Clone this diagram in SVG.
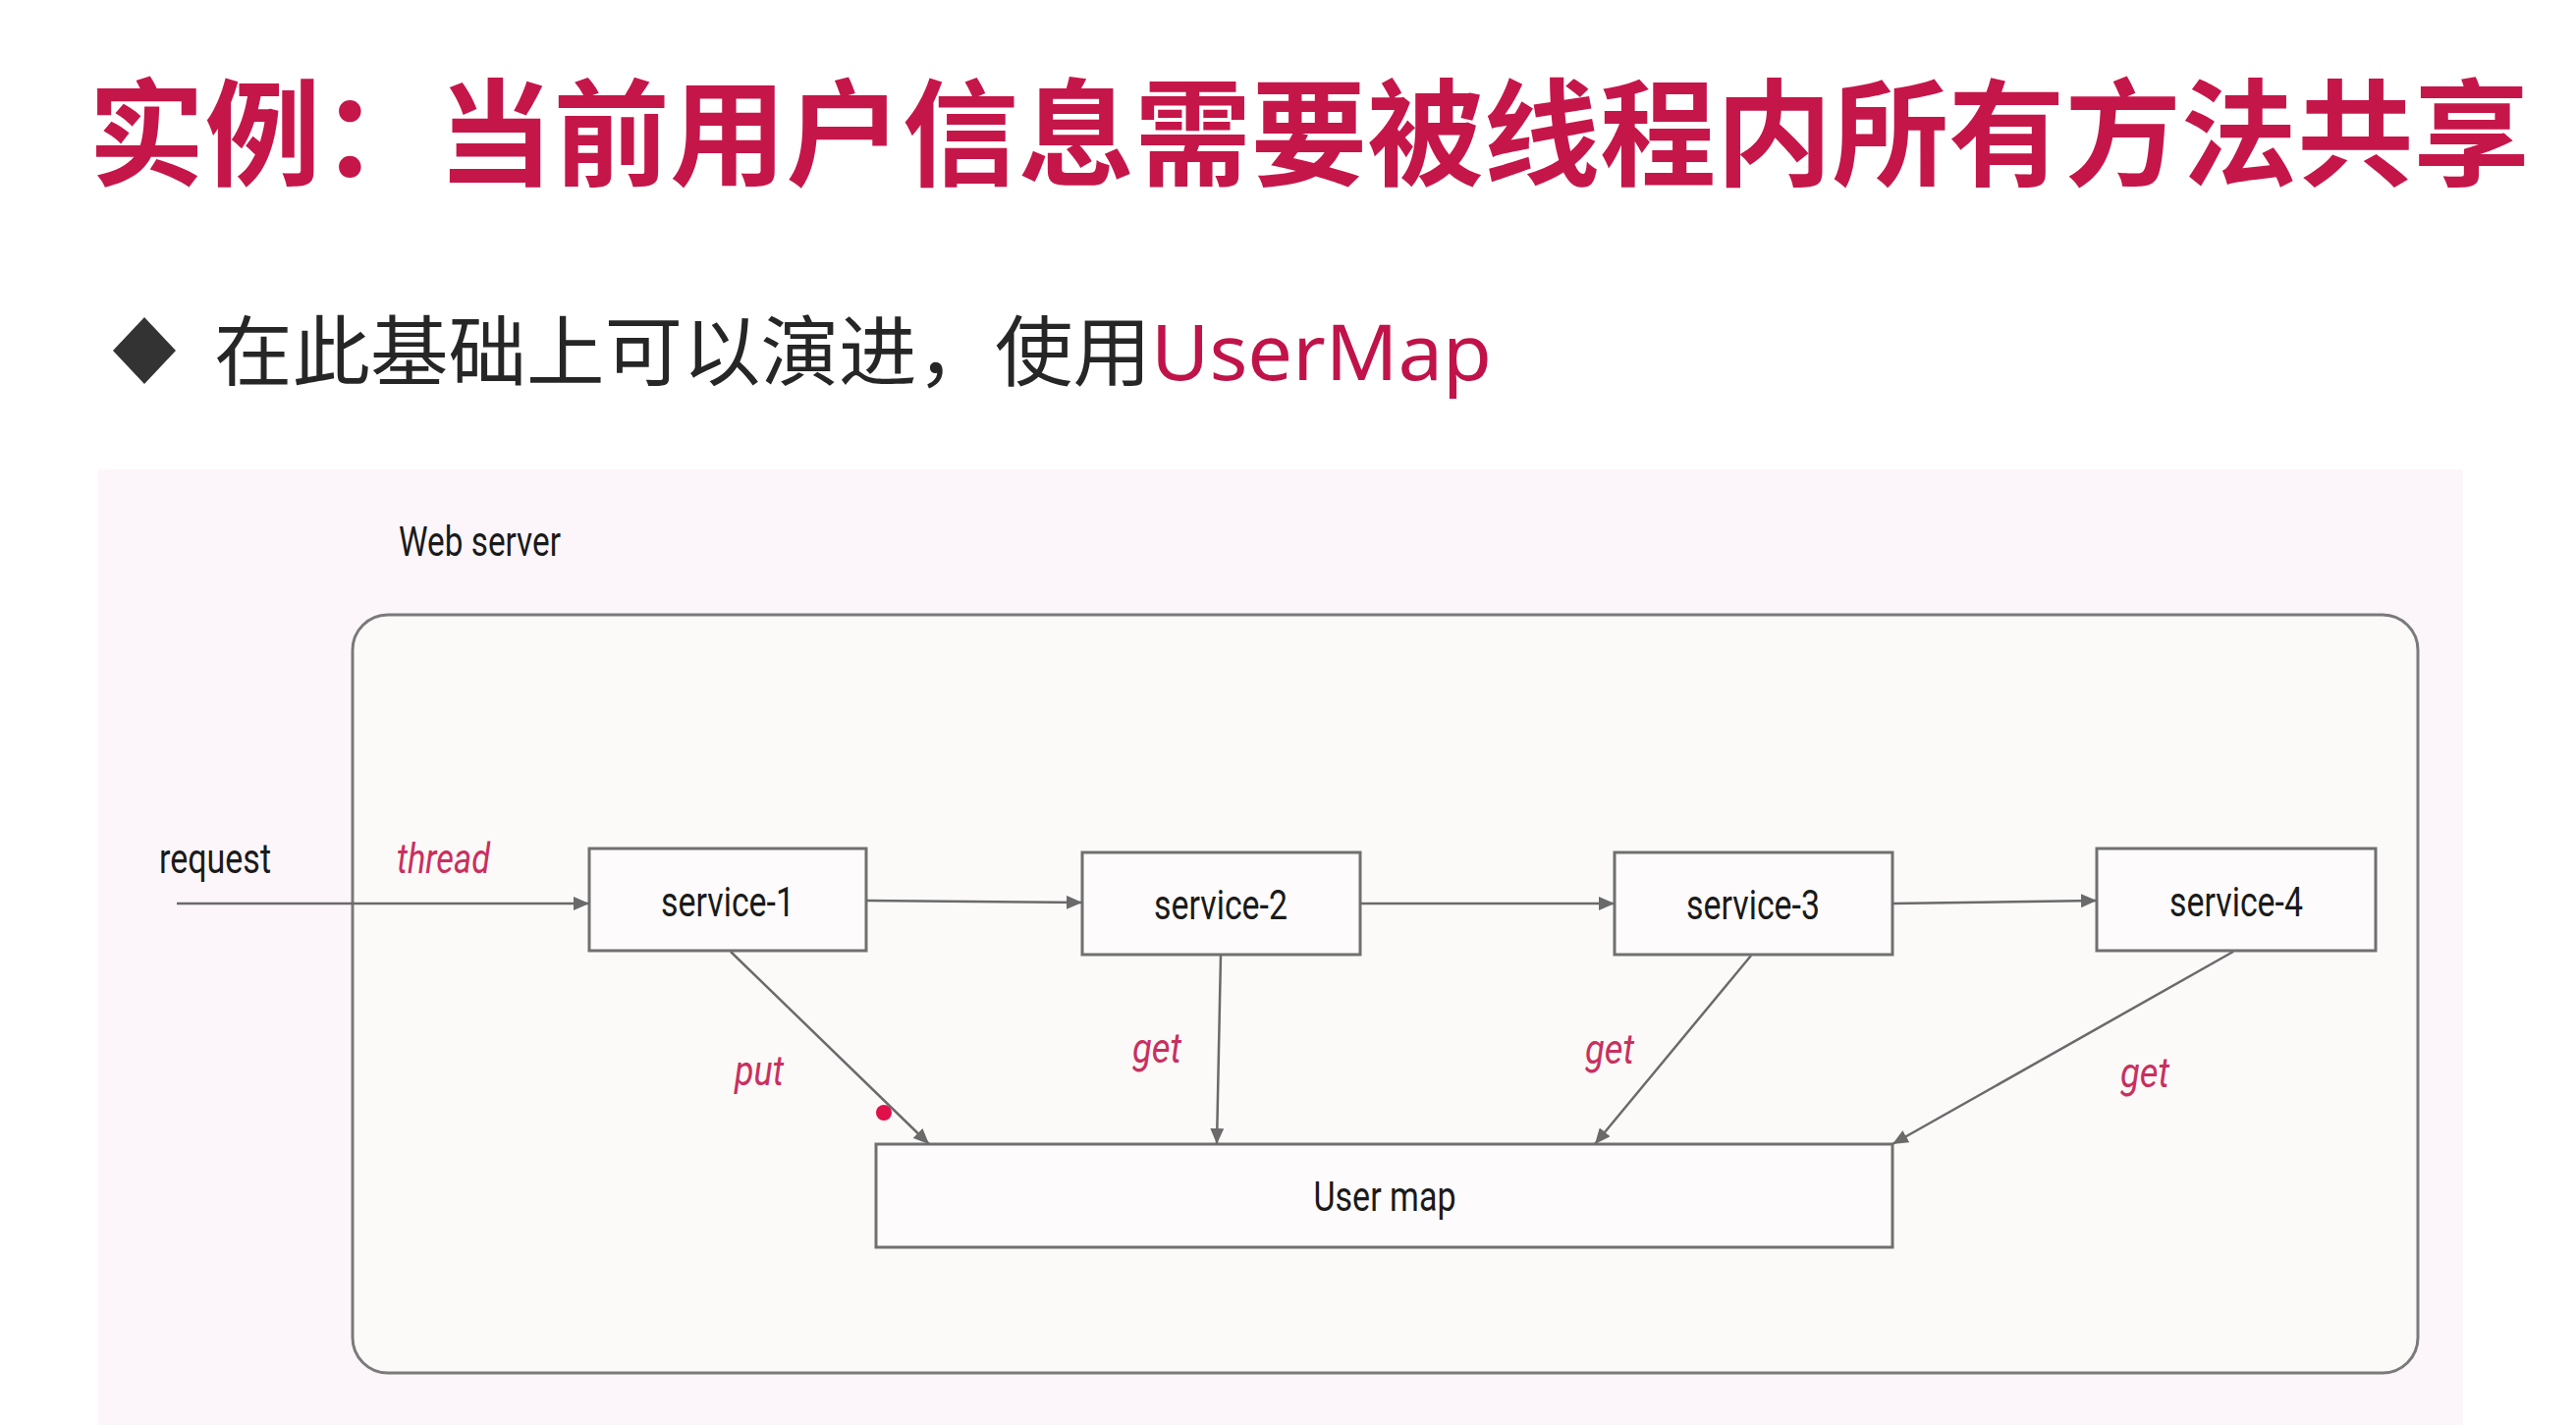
<svg xmlns="http://www.w3.org/2000/svg" width="2623" height="1451" viewBox="0 0 2623 1451">
  <style>
    .title{font-family:"Noto Sans CJK SC","Noto Sans",sans-serif;font-weight:700;font-size:118px;fill:#C5164A}
    .sub{font-family:"Noto Sans CJK SC","Noto Sans",sans-serif;font-size:78px;fill:#262626}
    .subred{font-family:"Noto Sans","Open Sans","Noto Sans CJK SC",sans-serif;font-size:78px;fill:#C0134A}
    .lbl{font-family:Roboto,"Liberation Sans",sans-serif;font-size:42px;fill:#1a1a1a}
    .red{font-family:Roboto,"Liberation Sans",sans-serif;font-size:42px;font-style:italic;fill:#C8305E}
    .box{fill:#FDFBFB;stroke:#707070;stroke-width:3}
    .conn{stroke:#6a6a6a;stroke-width:2.5;fill:none}
  </style>
  <defs>
    <marker id="arr" markerUnits="userSpaceOnUse" markerWidth="18" markerHeight="14" refX="16" refY="7" orient="auto">
      <path d="M0,0 L16,7 L0,14 Z" fill="#6a6a6a"/>
    </marker>
  </defs>
  <rect x="0" y="0" width="2623" height="1451" fill="#FFFFFF"/>
  <text class="title" x="90" y="180" textLength="2486" lengthAdjust="spacingAndGlyphs">实例：当前用户信息需要被线程内所有方法共享</text>
  <polygon points="147,323 179,357 147,391 115,357" fill="#333333"/>
  <text class="sub" x="218" y="387" textLength="954" lengthAdjust="spacingAndGlyphs">在此基础上可以演进，使用</text>
  <text class="subred" x="1172" y="387" textLength="347" lengthAdjust="spacingAndGlyphs">UserMap</text>

  <rect x="100" y="478" width="2408" height="973" fill="#FCF6FB"/>

  <g id="web-server">
    <rect x="359" y="626" width="2103" height="772" rx="36" ry="36" fill="#FCF9F9" stroke="#7a7a7a" stroke-width="3"/>
    <text class="lbl" x="406" y="566" textLength="165" lengthAdjust="spacingAndGlyphs">Web server</text>
  </g>

  <g id="request">
    <text class="lbl" x="162" y="889" textLength="114" lengthAdjust="spacingAndGlyphs">request</text>
  </g>
  <g id="thread">
    <text class="red" x="404" y="889" textLength="95" lengthAdjust="spacingAndGlyphs">thread</text>
  </g>

  <g id="service-1">
    <rect class="box" x="600" y="864" width="282" height="104"/>
    <text class="lbl" x="741" y="933" text-anchor="middle" textLength="136" lengthAdjust="spacingAndGlyphs">service-1</text>
  </g>
  <g id="service-2">
    <rect class="box" x="1102" y="868" width="283" height="104"/>
    <text class="lbl" x="1243" y="936" text-anchor="middle" textLength="136" lengthAdjust="spacingAndGlyphs">service-2</text>
  </g>
  <g id="service-3">
    <rect class="box" x="1644" y="868" width="283" height="104"/>
    <text class="lbl" x="1785" y="936" text-anchor="middle" textLength="136" lengthAdjust="spacingAndGlyphs">service-3</text>
  </g>
  <g id="service-4">
    <rect class="box" x="2135" y="864" width="284" height="104"/>
    <text class="lbl" x="2277" y="933" text-anchor="middle" textLength="136" lengthAdjust="spacingAndGlyphs">service-4</text>
  </g>
  <g id="user-map">
    <rect class="box" x="892" y="1165" width="1035" height="105"/>
    <text class="lbl" x="1410" y="1233" text-anchor="middle" textLength="145" lengthAdjust="spacingAndGlyphs">User map</text>
  </g>

  <g id="connectors">
    <line class="conn" x1="180" y1="920" x2="600" y2="920" marker-end="url(#arr)"/>
    <line class="conn" x1="882" y1="917" x2="1102" y2="919" marker-end="url(#arr)"/>
    <line class="conn" x1="1385" y1="920" x2="1644" y2="920" marker-end="url(#arr)"/>
    <line class="conn" x1="1927" y1="920" x2="2135" y2="917" marker-end="url(#arr)"/>
    <line class="conn" x1="744" y1="969" x2="946" y2="1165" marker-end="url(#arr)"/>
    <line class="conn" x1="1243" y1="973" x2="1239" y2="1165" marker-end="url(#arr)"/>
    <line class="conn" x1="1783" y1="973" x2="1624" y2="1165" marker-end="url(#arr)"/>
    <line class="conn" x1="2274" y1="969" x2="1927" y2="1165" marker-end="url(#arr)"/>
    <circle cx="900" cy="1133" r="8" fill="#E0104A"/>
    <text class="red" x="748" y="1105" textLength="50" lengthAdjust="spacingAndGlyphs">put</text>
    <text class="red" x="1153" y="1082" textLength="50" lengthAdjust="spacingAndGlyphs">get</text>
    <text class="red" x="1614" y="1083" textLength="50" lengthAdjust="spacingAndGlyphs">get</text>
    <text class="red" x="2159" y="1107" textLength="50" lengthAdjust="spacingAndGlyphs">get</text>
  </g>
</svg>
